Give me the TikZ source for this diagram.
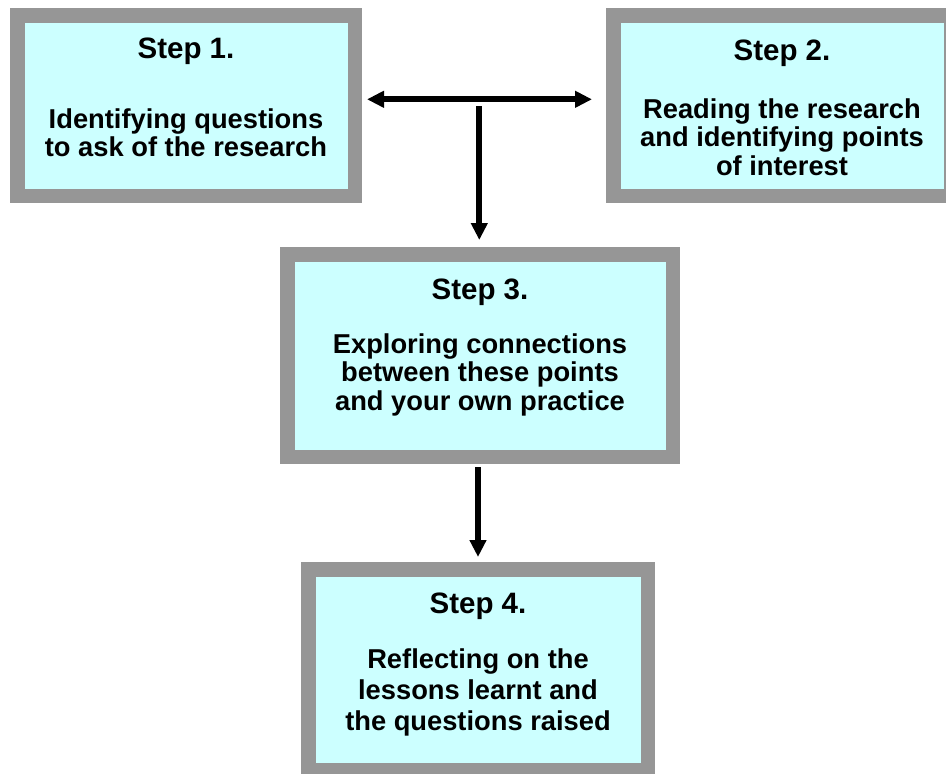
\documentclass[tikz,border=0pt]{standalone}
\usepackage{fontspec}
\setmainfont{Liberation Sans}
\usetikzlibrary{arrows.meta}
\definecolor{boxgray}{HTML}{969696}
\definecolor{boxfill}{HTML}{CCFFFF}
\begin{document}
\begin{tikzpicture}[x=1pt,y=-1pt,
  stepbox/.style={rectangle,draw=boxgray,fill=boxfill,line width=14.5pt,inner sep=0pt},
  steptitle/.style={anchor=base,inner sep=0pt,font=\fontsize{29.5}{30}\selectfont\bfseries},
  stepbody/.style={anchor=base,inner sep=0pt,font=\fontsize{27.3}{28.35}\selectfont\bfseries},
  tip/.style={Triangle[length=17pt,width=16pt]},
  arr/.style={line width=6pt,-{Triangle[length=17pt,width=16pt]}},
  darr/.style={line width=6pt,{Triangle[length=17pt,width=16pt]}-{Triangle[length=17pt,width=16pt]}}]
\useasboundingbox (0,0) rectangle (946,774);
\clip (0,0) rectangle (946,774);

% boxes
\node[stepbox,minimum width=337.5pt,minimum height=180.5pt] (b1) at (186,105.5) {};
\node[stepbox,minimum width=337.5pt,minimum height=180.5pt] (b2) at (782,105.5) {};
\node[stepbox,minimum width=385.5pt,minimum height=202.5pt] (b3) at (480,355.5) {};
\node[stepbox,minimum width=339.5pt,minimum height=201pt] (b4) at (478,669.75) {};

% texts
\node[steptitle] (t1) at (186,58.3) {Step 1.};
\node[stepbody] (d1) at (186,128.3) {\begin{tabular}[t]{@{}c@{}}Identifying questions\\to ask of the research\end{tabular}};

\node[steptitle] (t2) at (782,60) {Step 2.};
\node[stepbody] (d2) at (782,118.3) {\begin{tabular}[t]{@{}c@{}}Reading the research\\and identifying points\\of interest\end{tabular}};

\node[steptitle] (t3) at (480,299.3) {Step 3.};
\node[stepbody] (d3) at (480,353.3) {\begin{tabular}[t]{@{}c@{}}Exploring connections\\between these points\\and your own practice\end{tabular}};

\node[steptitle] (t4) at (478,613.5) {Step 4.};
\node[stepbody,font=\fontsize{27.3}{31.2}\selectfont\bfseries] (d4) at (478,668.3) {\begin{tabular}[t]{@{}c@{}}Reflecting on the\\lessons learnt and\\the questions raised\end{tabular}};

% connectors
\coordinate (hl) at (367,99.3);
\coordinate (hr) at (592,99.3);
\coordinate (hm) at (479.3,106);
\draw[darr] (hl) -- (hr);
\draw[arr,shorten >=7pt] (hm) -- (hm |- b3.north);
\draw[arr,shorten <=3pt,shorten >=5pt] (b3.south -| b4.north) -- (b4.north);
\end{tikzpicture}
\end{document}
